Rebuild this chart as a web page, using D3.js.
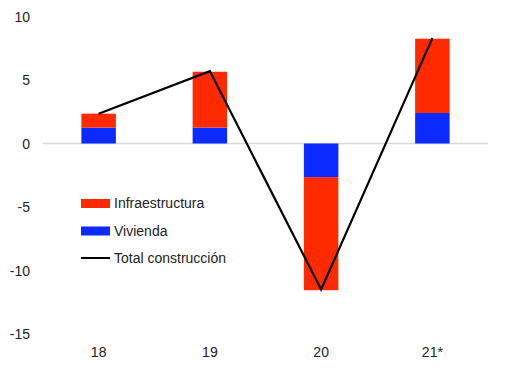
<!DOCTYPE html>
<html><head><meta charset="utf-8">
<script src="https://cdn.jsdelivr.net/npm/d3@7"></script>
<style>body{margin:0;background:#fff}svg{display:block}text{font-family:"Liberation Sans",Arial,sans-serif;fill:#222}</style>
</head><body><svg id="c" width="514" height="372"></svg>
<script>
const categories = ["18","19","20","21*"];
const vivienda = [1.25, 1.25, -2.65, 2.4];
const infraestructura = [1.1, 4.4, -8.9, 5.85];
const total = [2.35, 5.7, -11.5, 8.3];
const yTicks = [10,5,0,-5,-10,-15];
const legendLabels = ["Infraestructura","Vivienda","Total construcción"];

const svg = d3.select("#c");
const x = d3.scaleBand().domain(categories).range([43,488]).paddingInner(0.69).paddingOuter(0.345);
const y = d3.scaleLinear().domain([-15,10]).range([334,16.5]);
const red = "#ff2a00", blue = "#0a2aff";

// zero line
svg.append("line").attr("x1",43).attr("x2",488).attr("y1",y(0)).attr("y2",y(0)).attr("stroke","#d9d9d9").attr("stroke-width",1.5);

// y axis labels
const yAxis = d3.axisLeft(y).tickValues(yTicks).tickSize(0).tickPadding(0).tickFormat(d=>String(d));
const gy = svg.append("g").attr("transform","translate(30,0)").call(yAxis);
gy.select(".domain").remove();
gy.selectAll("text").style("font-size","14px").attr("font-family",null).attr("fill","#222").attr("dy","0.35em");

// x axis labels
const xAxis = d3.axisBottom(x).tickSize(0).tickPadding(0);
const gx = svg.append("g").attr("transform","translate(0,347)").call(xAxis);
gx.select(".domain").remove();
gx.selectAll("text").style("font-size","14px").attr("font-family",null).attr("fill","#222");

// bars
categories.forEach((c,i)=>{
  const v = vivienda[i], inf = infraestructura[i];
  svg.append("rect").attr("x",x(c)).attr("width",x.bandwidth())
    .attr("y",y(Math.max(0,v))).attr("height",Math.abs(y(v)-y(0))).attr("fill",blue);
  const b0 = v, b1 = v+inf;
  svg.append("rect").attr("x",x(c)).attr("width",x.bandwidth())
    .attr("y",y(Math.max(b0,b1))).attr("height",Math.abs(y(b1)-y(b0))).attr("fill",red);
});

// line
const line = d3.line().x((d,i)=>x(categories[i])+x.bandwidth()/2).y(d=>y(d));
svg.append("path").datum(total).attr("d",line).attr("fill","none").attr("stroke","#000").attr("stroke-width",2.2);

// legend
const lg = svg.append("g");
const ly = [203.5,231,258];
lg.append("rect").attr("x",81).attr("y",ly[0]-4.5).attr("width",29).attr("height",9).attr("fill",red);
lg.append("rect").attr("x",81).attr("y",ly[1]-4.5).attr("width",29).attr("height",9).attr("fill",blue);
lg.append("line").attr("x1",81).attr("x2",110).attr("y1",ly[2]).attr("y2",ly[2]).attr("stroke","#000").attr("stroke-width",2);
legendLabels.forEach((t,i)=>{
  lg.append("text").attr("x",114).attr("y",ly[i]).attr("dy","0.35em").style("font-size","14px").text(t);
});
</script></body></html>
